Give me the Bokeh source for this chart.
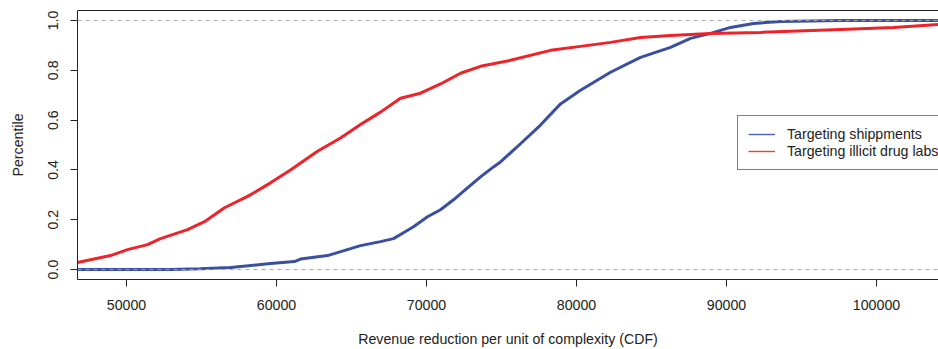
from bokeh.plotting import figure
from bokeh.models import (Range1d, Span, Legend, LegendItem, LinearAxis,
                          FixedTicker, ColumnDataSource)
from bokeh.embed import file_html
from bokeh.resources import INLINE

# Empirical CDF of revenue reduction per unit of complexity
ship_x = [46733, 52933, 54933, 56933, 59600, 61200, 61600, 63400, 65600, 66933,
          67800, 68467, 69133, 70067, 70933, 71800, 72733, 73600, 74467, 74933,
          76267, 77600, 78933, 80267, 82267, 84267, 86267, 87600, 88933, 90267,
          91800, 93600, 97600, 104133]
ship_y = [0.0, 0.0, 0.003, 0.008, 0.024, 0.032, 0.042, 0.056, 0.096, 0.112,
          0.124, 0.148, 0.172, 0.212, 0.24, 0.28, 0.328, 0.372, 0.412, 0.432,
          0.505, 0.58, 0.665, 0.72, 0.792, 0.852, 0.892, 0.928, 0.948, 0.972,
          0.988, 0.996, 1.0, 1.0]

labs_x = [46733, 48933, 50067, 51400, 52267, 54067, 55200, 56533, 58267, 59600,
          60933, 62733, 64267, 65600, 66933, 68267, 69600, 70933, 72267, 73600,
          75600, 78267, 80267, 82267, 84267, 86267, 88933, 92267, 97600, 101133,
          104133]
labs_y = [0.028, 0.056, 0.08, 0.1, 0.124, 0.16, 0.192, 0.248, 0.3, 0.348,
          0.4, 0.475, 0.528, 0.582, 0.632, 0.688, 0.708, 0.745, 0.788, 0.816,
          0.84, 0.88, 0.896, 0.912, 0.932, 0.94, 0.948, 0.952, 0.964, 0.972,
          0.984]

x_ticks = [50000, 60000, 70000, 80000, 90000, 100000]
y_ticks = [0.0, 0.2, 0.4, 0.6, 0.8, 1.0]
ref_levels = [0.0, 1.0]
series_names = ["Targeting shippments", "Targeting illicit drug labs"]

BLUE = "#3A4FA0"
RED = "#EE2229"
FONT = "Liberation Sans"
FS = "14.2px"
INK = "#222222"

p = figure(width=938, height=349, output_backend="svg", toolbar_location=None,
           x_range=Range1d(46733, 104133), y_range=Range1d(-0.04, 1.04),
           min_border_left=77, min_border_right=0, min_border_top=10,
           min_border_bottom=69, outline_line_color=None,
           background_fill_color="white", border_fill_color="white")

p.xgrid.visible = False
p.ygrid.visible = False

for ax in (p.xaxis[0], p.yaxis[0]):
    ax.axis_line_color = INK
    ax.axis_line_width = 1
    ax.major_tick_line_color = INK
    ax.major_tick_in = 0
    ax.major_tick_out = 7
    ax.minor_tick_line_color = None
    ax.major_label_text_font = FONT
    ax.major_label_text_font_size = FS
    ax.major_label_text_color = INK
    ax.axis_label_text_font = FONT
    ax.axis_label_text_font_size = FS
    ax.axis_label_text_font_style = "normal"
    ax.axis_label_text_color = INK

p.xaxis.ticker = FixedTicker(ticks=x_ticks)
p.xaxis.major_label_overrides = {t: str(t) for t in x_ticks}
p.xaxis.axis_label = "Revenue reduction per unit of complexity (CDF)"
p.xaxis.major_label_standoff = 13
p.xaxis.axis_label_standoff = 18

p.yaxis.ticker = FixedTicker(ticks=y_ticks)
p.yaxis.major_label_overrides = {t: f"{t:.1f}" for t in y_ticks}
p.yaxis.major_label_orientation = "vertical"
p.yaxis.axis_label = "Percentile"
p.yaxis.major_label_standoff = 12
p.yaxis.axis_label_standoff = 20

# top edge of the plot box
top = LinearAxis(ticker=FixedTicker(ticks=[]), axis_line_color=INK,
                 major_tick_line_color=None, minor_tick_line_color=None,
                 major_label_text_font_size="0px")
p.add_layout(top, "above")

ship_src = ColumnDataSource(dict(x=ship_x, y=ship_y))
labs_src = ColumnDataSource(dict(x=labs_x, y=labs_y))

# thin copies underneath serve as the legend keys
key_ship = p.line("x", "y", source=ship_src, line_color="#4A62C8", line_width=1.4)
key_labs = p.line("x", "y", source=labs_src, line_color="#F23A40", line_width=1.4)

p.line("x", "y", source=ship_src, line_color=BLUE, line_width=3)
p.line("x", "y", source=labs_src, line_color=RED, line_width=3)

for lvl in ref_levels:
    p.add_layout(Span(location=lvl, dimension="width", line_color="#A8A8A8",
                      line_width=1, line_dash="4 4"))

legend = Legend(items=[LegendItem(label=series_names[0], renderers=[key_ship]),
                       LegendItem(label=series_names[1], renderers=[key_labs])],
                location=(660, 109), orientation="vertical",
                border_line_color="#000000", border_line_width=1,
                background_fill_color="white", background_fill_alpha=1.0,
                label_text_font=FONT, label_text_font_size=FS,
                label_text_color=INK, glyph_width=27, glyph_height=16,
                label_height=16, label_standoff=12, spacing=1, padding=10,
                margin=0)
p.add_layout(legend, "center")

open("out.html", "w").write(file_html(p, INLINE))
